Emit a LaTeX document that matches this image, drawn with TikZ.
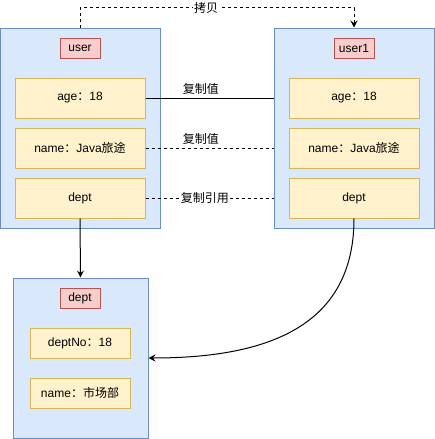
\documentclass[tikz,border=0pt]{standalone}
\usepackage{fontspec}
\setmainfont{Liberation Sans}
\newfontfamily\cjk{Noto Sans CJK SC}
\usetikzlibrary{arrows.meta}
\definecolor{blueF}{HTML}{DAE8FC}
\definecolor{blueS}{HTML}{6C8EBF}
\definecolor{redF}{HTML}{F8CECC}
\definecolor{redS}{HTML}{B85450}
\definecolor{yelF}{HTML}{FFF2CC}
\definecolor{yelS}{HTML}{D6B656}
\tikzset{
  cont/.style={draw=blueS, fill=blueF, line width=1pt, inner sep=0pt},
  ttl/.style={draw=redS, fill=redF, line width=1pt, minimum width=40pt, minimum height=20pt, inner sep=0pt, font=\fontsize{12}{14}\selectfont},
  fld/.style={draw=yelS, fill=yelF, line width=1pt, minimum width=130pt, minimum height=40pt, inner sep=0pt, font=\fontsize{12}{14}\selectfont},
  sfld/.style={fld, minimum width=100pt, minimum height=30pt},
  conn/.style={line width=1pt, draw=black},
  dconn/.style={conn, dash pattern=on 3pt off 3pt},
  arr/.style={-{Stealth[length=7pt,width=7pt,inset=2.5pt]}},
  lbl/.style={font=\fontsize{12}{14}\selectfont\cjk, inner sep=1pt},
  wlbl/.style={lbl, fill=white}
}
\begin{document}
\begin{tikzpicture}[x=1pt,y=-1pt]
\useasboundingbox (0,0) rectangle (435,439);
% left container
\node[cont, minimum width=160pt, minimum height=200pt] (L) at (80,128) {};
\node[ttl] (Lt) at (80,48) {user};
\node[fld] (Lage) at (80,98) {age{\cjk：}18};
\node[fld] (Lname) at (80,148) {name{\cjk：}Java{\cjk 旅途}};
\node[fld] (Ldept) at (80,198) {dept};
% connectors behind right container
\draw[conn] (Lage.east) -- (Lage.east -| 274,0) node[midway, above=2pt, xshift=-9pt, lbl] {复制值};
\draw[dconn] (Lname.east) -- (Lname.east -| 274,0) node[midway, above=2pt, xshift=-9pt, lbl] {复制值};
\draw[dconn] (Ldept.east) -- (Ldept.east -| 274,0) node[midway, xshift=-5pt, wlbl] {复制引用};
% right container
\node[cont, minimum width=160pt, minimum height=200pt] (R) at (354,128) {};
\node[ttl] (Rt) at (354,48) {user1};
\node[fld] (Rage) at (354,98) {age{\cjk：}18};
\node[fld] (Rname) at (354,148) {name{\cjk：}Java{\cjk 旅途}};
\node[fld] (Rdept) at (354,198) {dept};
% dept container
\node[cont, minimum width=135pt, minimum height=160pt] (D) at (80.5,358) {};
\node[ttl] (Dt) at (80,298) {dept};
\node[sfld] (Dno) at (80,343) {deptNo{\cjk：}18};
\node[sfld] (Dname) at (80,393) {name{\cjk：市场部}};
% copy arrow
\draw[dconn, arr] (L.north) -- ++(0,-20) -| (R.north) node[pos=0.23, wlbl] {拷贝};
% dept references
\draw[conn, arr] (Ldept.south) -- (D.north);
\draw[conn, arr] (Rdept.south) .. controls +(0,112) and +(112,0) .. (D.east);
\end{tikzpicture}
\end{document}
